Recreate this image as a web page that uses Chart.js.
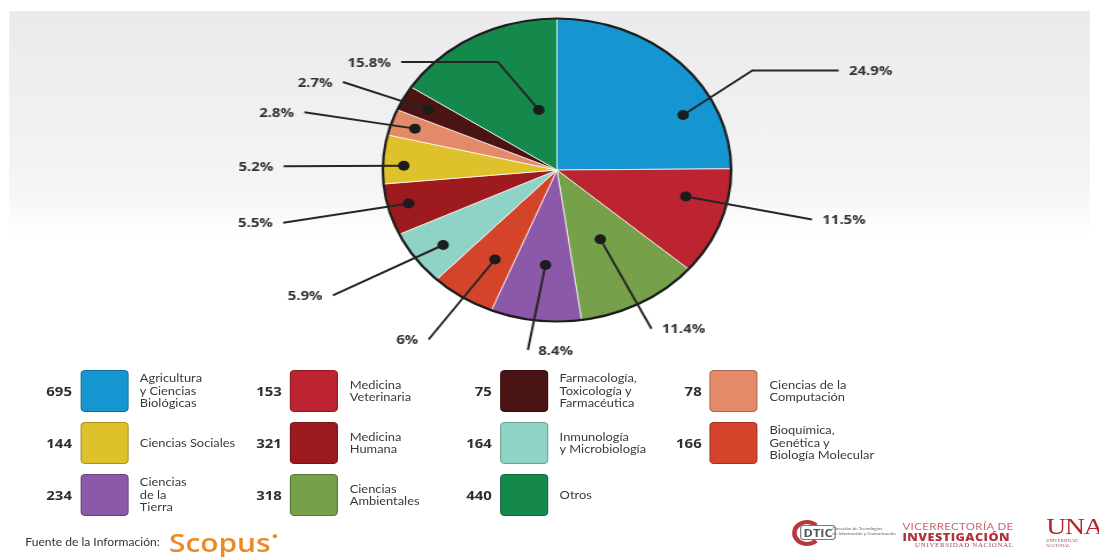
<!DOCTYPE html>
<html lang="es">
<head>
<meta charset="utf-8">
<title>Publicaciones por área temática</title>
<script src="https://cdn.jsdelivr.net/npm/chart.js@4.4.1/dist/chart.umd.min.js"></script>
<style>
  html, body { margin: 0; padding: 0; background: #fff; overflow: hidden; }
  /* the whole sheet is laid out at 956px wide and stretched to the window */
  #page {
    position: relative; width: 956px; height: 557px;
    transform: scaleX(1.1496); transform-origin: 0 0;
    font-family: Lato, "Open Sans", sans-serif; color: #3a3a3a;
  }
  #panel {
    position: absolute; left: 8px; top: 11px; width: 940px; height: 225px;
    background: linear-gradient(#eaeaec, #f5f5f6 80%, #fff);
  }
  #chart { position: absolute; left: 0; top: 0; }
  .num {
    position: absolute; width: 44px; height: 42px;
    text-align: right; font: bold 13px "Open Sans", sans-serif; line-height: 42px; color: #2e2e2e;
  }
  .box {
    position: absolute; width: 42px; height: 42px; box-sizing: border-box;
    border-radius: 4px; border: 1px solid rgba(0,0,0,0.25);
  }
  .name {
    position: absolute; height: 42px; display: flex; align-items: center;
    font-size: 11.2px; line-height: 12.5px; white-space: nowrap;
  }
  #source { position: absolute; left: 22px; top: 536px; font-size: 10.5px; color: #333; }
  #scopus {
    position: absolute; left: 147px; top: 518px; font: 600 26px "Open Sans", sans-serif;
    color: #ee8a25; line-height: 36px;
  }
  #scopus sup { font-size: 9px; vertical-align: 13px; margin-left: 1px; }
  .ring {
    position: absolute; left: 689px; top: 520px; width: 18px; height: 18px;
    border: 4px solid #b8393d; border-right-color: transparent; border-radius: 50%;
  }
  #dtic {
    position: absolute; left: 696px; top: 525px; font: bold 11px "Open Sans", sans-serif;
    color: #555; border: 1px solid #777; border-radius: 3px; padding: 0 2px; line-height: 13px; background: #fff;
  }
  #dticsub { position: absolute; left: 724px; top: 526px; font-size: 4px; line-height: 5px; color: #666; }
  #vice1 { position: absolute; left: 785px; top: 520px; font-size: 10px; color: #c9666b; letter-spacing: 0.3px; }
  #vice2 { position: absolute; left: 785px; top: 529px; font: 800 11px "Open Sans", sans-serif; color: #b4303a; letter-spacing: 0.4px; }
  #vice3 { position: absolute; left: 796px; top: 542px; font: 6px "Liberation Serif", serif; color: #a24a50; letter-spacing: 0.6px; }
  #una { position: absolute; left: 910px; top: 513px; font: 24px "Liberation Serif", serif; color: #b3262e; letter-spacing: -1px; }
  #unasub { position: absolute; left: 910px; top: 538px; font: 4px "Liberation Serif", serif; color: #a24a50; }
</style>
</head>
<body>
<div id="page">
  <div id="panel"></div>
  <canvas id="chart" width="956" height="360"></canvas>
  <div id="legend"></div>
  <div id="source">Fuente de la Información:</div>
  <div id="scopus">Scopus<sup>●</sup></div>
  <div class="ring"></div>
  <div id="dtic">DTIC</div>
  <div id="dticsub">Dirección de Tecnologías<br>de Información y Comunicación</div>
  <div id="vice1">VICERRECTORÍA DE</div>
  <div id="vice2">INVESTIGACIÓN</div>
  <div id="vice3">UNIVERSIDAD NACIONAL</div>
  <div id="una">UNA</div>
  <div id="unasub">UNIVERSIDAD NACIONAL</div>
</div>
<script>
// Áreas del listado inferior (orden de lectura: fila por fila)
const areas = [
  'Agricultura<br>y Ciencias<br>Biológicas', 'Medicina<br>Veterinaria',
  'Farmacología,<br>Toxicología y<br>Farmacéutica', 'Ciencias de la<br>Computación',
  'Ciencias Sociales', 'Medicina<br>Humana',
  'Inmunología<br>y Microbiología', 'Bioquímica,<br>Genética y<br>Biología Molecular',
  'Ciencias<br>de la<br>Tierra', 'Ciencias<br>Ambientales', 'Otros'
];
const counts = [695, 153, 75, 78, 144, 321, 164, 166, 234, 318, 440];
const areaColors = [
  '#1596d1', '#bb2430', '#4a1314', '#e38a69',
  '#dfc12b', '#9d1b1f', '#8fd3c7', '#d4442b',
  '#8c58a8', '#76a049', '#15894b'
];

// Porciones del pastel, en sentido horario desde las 12
const sliceArea = [0, 1, 9, 8, 7, 6, 5, 4, 3, 2, 10];   // índice en areas[]
const slicePercent = [24.9, 11.5, 11.4, 8.4, 6, 5.9, 5.5, 5.2, 2.8, 2.7, 15.8];

// dónde va cada etiqueta: [t punto, r punto, t final, r final, tramo horizontal, lado]
// t = fracción del ángulo de la porción, r = fracción del radio
const leaderPlacement = [
  [0.708, 0.81, 0.666, 1.30, 75, 1],
  [0.332, 0.76, 0.315, 1.50, 0, 1],
  [0.50, 0.52, 0.53, 1.18, 0, 1],
  [0.467, 0.63, 0.533, 1.20, 0, 1],
  [0.416, 0.69, 0.522, 1.34, 0, -1],
  [0.432, 0.82, 0.639, 1.53, 0, -1],
  [0.532, 0.88, 0.638, 1.61, 0, -1],
  [0.381, 0.88, 0.333, 1.57, 0, -1],
  [0.508, 0.86, 0.131, 1.50, 0, -1],
  [0.498, 0.84, 0.189, 1.36, 0, -1],
  [0.741, 0.41, 0.551, 0.79, -84, -1]
];

// borde oscuro del pastel + líneas guía con el porcentaje
const leaderLabels = {
  id: 'leaderLabels',
  afterDatasetsDraw(chart) {
    const ctx = chart.ctx;
    const arcs = chart.getDatasetMeta(0).data;
    const first = arcs[0];
    ctx.save();
    ctx.beginPath();
    ctx.arc(first.x, first.y, first.outerRadius, 0, Math.PI * 2);
    ctx.lineWidth = 2.2;
    ctx.strokeStyle = '#1d1d1d';
    ctx.stroke();

    ctx.font = 'bold 13px "Open Sans", sans-serif';
    ctx.textBaseline = 'middle';
    arcs.forEach((arc, i) => {
      const [tDot, rDot, tEnd, rEnd, run, side] = leaderPlacement[i];
      const span = arc.endAngle - arc.startAngle;
      const aDot = arc.startAngle + span * tDot;
      const aEnd = arc.startAngle + span * tEnd;
      const R = arc.outerRadius;
      const px = arc.x + Math.cos(aDot) * R * rDot;
      const py = arc.y + Math.sin(aDot) * R * rDot;
      const ex = arc.x + Math.cos(aEnd) * R * rEnd;
      const ey = arc.y + Math.sin(aEnd) * R * rEnd;

      ctx.beginPath();
      ctx.moveTo(px, py);
      ctx.lineTo(ex, ey);
      if (run) ctx.lineTo(ex + run, ey);
      ctx.lineWidth = 2;
      ctx.strokeStyle = '#262626';
      ctx.stroke();

      ctx.beginPath();
      ctx.arc(px, py, 5, 0, Math.PI * 2);
      ctx.fillStyle = '#1c1c1c';
      ctx.fill();

      ctx.fillStyle = '#333';
      ctx.textAlign = side > 0 ? 'left' : 'right';
      ctx.fillText(slicePercent[i] + '%', ex + run + side * 9, ey + 1);
    });
    ctx.restore();
  }
};

new Chart(document.getElementById('chart'), {
  type: 'pie',
  data: {
    labels: sliceArea.map(k => areas[k].replace(/<br>/g, ' ')),
    datasets: [{
      data: slicePercent,
      backgroundColor: sliceArea.map(k => areaColors[k]),
      borderColor: 'rgba(255,255,255,0.75)',
      borderWidth: 1,
      hoverOffset: 0
    }]
  },
  options: {
    responsive: false,
    animation: false,
    devicePixelRatio: 1,
    layout: { padding: { left: 332, right: 319, top: 18, bottom: 38 } },
    plugins: {
      legend: { display: false },
      tooltip: { enabled: false }
    }
  },
  plugins: [leaderLabels]
});

// listado inferior: número, cuadro de color y nombre del área
const colX = [69.6, 252.2, 434.8, 617.4];
const rowY = [370, 422, 474];
const legend = document.getElementById('legend');
areas.forEach((name, i) => {
  const x = colX[i % 4], y = rowY[Math.floor(i / 4)];
  legend.insertAdjacentHTML('beforeend',
    `<div class="num" style="left:${x - 51}px;top:${y}px">${counts[i]}</div>` +
    `<div class="box" style="left:${x}px;top:${y}px;background:${areaColors[i]}"></div>` +
    `<div class="name" style="left:${x + 52}px;top:${y}px"><span>${name}</span></div>`);
});
</script>
</body>
</html>
